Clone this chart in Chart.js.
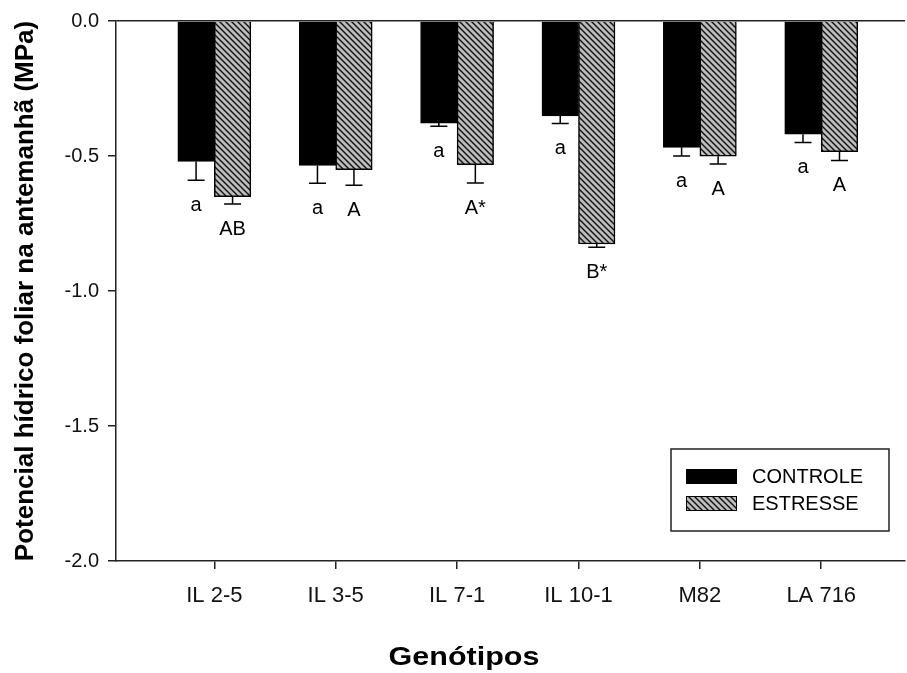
<!DOCTYPE html>
<html lang="pt">
<head>
<meta charset="utf-8">
<title>Potencial hídrico foliar na antemanhã</title>
<script src="https://cdn.jsdelivr.net/npm/chart.js@4.4.0/dist/chart.umd.min.js"></script>
<style>
  html, body { margin: 0; padding: 0; background: #fff; }
  .chart-wrap { position: relative; width: 907px; height: 673px; }
</style>
</head>
<body>
<div class="chart-wrap"><canvas id="waterChart"></canvas></div>
<script>
// Data (MPa)
const genotipos = ["IL 2-5", "IL 3-5", "IL 7-1", "IL 10-1", "M82", "LA 716"];
const controle = [-0.52, -0.535, -0.378, -0.352, -0.468, -0.419];
const controleErr = [0.07, 0.066, 0.012, 0.028, 0.032, 0.031];
const estresse = [-0.651, -0.551, -0.532, -0.826, -0.501, -0.484];
const estresseErr = [0.027, 0.057, 0.068, 0.012, 0.029, 0.033];
const letrasControle = ["a", "a", "a", "a", "a", "a"];
const letrasEstresse = ["AB", "A", "A*", "B*", "A", "A"];
const yTicks = [0, -0.5, -1.0, -1.5, -2.0];

const FONT = '"Liberation Sans", Arial, Helvetica, sans-serif';
Chart.defaults.font.family = FONT;
Chart.defaults.color = "#000";

const canvas = document.getElementById("waterChart");
const ctx = canvas.getContext("2d");

/**
 * Grey fill with black diagonal hatch ("\\\")
 */
function makeHatch() {
  const tile = document.createElement("canvas");
  tile.width = 6;
  tile.height = 6;
  const g = tile.getContext("2d");
  g.fillStyle = "#bdbdbd";
  g.fillRect(0, 0, 6, 6);
  g.strokeStyle = "#111";
  g.lineWidth = 1.4;
  g.beginPath();
  g.moveTo(-1, -1); g.lineTo(7, 7);
  g.moveTo(-1, 5); g.lineTo(1, 7);
  g.moveTo(5, -1); g.lineTo(7, 1);
  g.stroke();
  return ctx.createPattern(tile, "repeat");
}

const hatch = makeHatch();

// error bars (downward only) and the letters below them
const errorBarsPlugin = {
  id: "errorBars",
  afterDatasetsDraw(chart) {
    const c = chart.ctx;
    const y = chart.scales.y;
    c.save();
    chart.data.datasets.forEach((ds, i) => {
      const meta = chart.getDatasetMeta(i);
      meta.data.forEach((bar, j) => {
        const v = ds.data[j].y;
        const yEnd = y.getPixelForValue(v - ds.errors[j]);
        c.strokeStyle = "#000";
        c.lineWidth = 1.5;
        c.beginPath();
        c.moveTo(bar.x, bar.y);
        c.lineTo(bar.x, yEnd);
        c.moveTo(bar.x - 8.5, yEnd);
        c.lineTo(bar.x + 8.5, yEnd);
        c.stroke();

        c.fillStyle = "#000";
        c.font = "20px " + FONT;
        c.textAlign = "center";
        c.textBaseline = "middle";
        c.fillText(ds.letters[j], bar.x, yEnd + 25);
      });
    });
    c.restore();
  },
};

// boxed legend inside the plot + x axis title
const legendPlugin = {
  id: "boxLegend",
  afterDraw(chart) {
    const c = chart.ctx;
    c.save();
    c.strokeStyle = "#222";
    c.lineWidth = 1.5;
    c.strokeRect(671, 449, 218, 82);

    chart.data.datasets.forEach((ds, i) => {
      const top = 469 + i * 27;
      c.fillStyle = ds.backgroundColor;
      c.fillRect(686, top, 51, 15);
      c.strokeStyle = "#000";
      c.lineWidth = 1;
      c.strokeRect(686.5, top + 0.5, 50, 14);
      c.fillStyle = "#000";
      c.font = "20px " + FONT;
      c.textAlign = "left";
      c.textBaseline = "middle";
      c.fillText(ds.label, 752, top + 8);
    });

    // x title, slightly wide as in the original figure
    c.translate(464, 658);
    c.scale(1.22, 1);
    c.font = "bold 25px " + FONT;
    c.textAlign = "center";
    c.textBaseline = "middle";
    c.fillText("Genótipos", 0, 0);
    c.restore();
  },
};

const whiteBg = {
  id: "whiteBg",
  beforeDraw(chart) {
    const c = chart.ctx;
    c.save();
    c.fillStyle = "#fff";
    c.fillRect(0, 0, chart.width, chart.height);
    c.restore();
  },
};

new Chart(canvas, {
  type: "bar",
  data: {
    datasets: [
      {
        label: "CONTROLE",
        data: controle.map((v, i) => ({ x: i + 1, y: v })),
        errors: controleErr,
        letters: letrasControle,
        backgroundColor: "#000",
        borderColor: "#000",
        borderWidth: 1,
      },
      {
        label: "ESTRESSE",
        data: estresse.map((v, i) => ({ x: i + 1, y: v })),
        errors: estresseErr,
        letters: letrasEstresse,
        backgroundColor: hatch,
        borderColor: "#000",
        borderWidth: 1.5,
      },
    ],
  },
  options: {
    responsive: true,
    maintainAspectRatio: false,
    animation: false,
    barThickness: 36.5,
    layout: { padding: { top: 21, right: 2, left: 0, bottom: 0 } },
    plugins: {
      legend: { display: false },
      tooltip: { enabled: false },
    },
    scales: {
      x: {
        type: "linear",
        min: 0.19,
        max: 6.69,
        offset: false,
        afterBuildTicks: (s) => {
          s.ticks = genotipos.map((g, i) => ({ value: i + 1 }));
        },
        afterFit: (s) => {
          s.height = 112;
        },
        ticks: {
          autoSkip: false,
          maxRotation: 0,
          padding: 14,
          color: "#111",
          font: { size: 22 },
          callback: (v, i) => genotipos[i],
        },
        grid: {
          offset: false,
          drawOnChartArea: false,
          tickLength: 8,
          tickColor: "#222",
          lineWidth: 1.5,
        },
        border: { color: "#222", width: 1.5 },
      },
      y: {
        min: -2,
        max: 0,
        afterBuildTicks: (s) => {
          s.ticks = yTicks.map((v) => ({ value: v }));
        },
        afterFit: (s) => {
          s.width = 116;
        },
        ticks: {
          padding: 9,
          color: "#111",
          font: { size: 20 },
          callback: (v) => Number(v).toFixed(1),
        },
        grid: {
          color: (c) => (c.tick && c.tick.value === 0 ? "#222" : "rgba(0,0,0,0)"),
          tickColor: "#222",
          tickLength: 8,
          lineWidth: 1.5,
        },
        border: { color: "#222", width: 1.5 },
        title: {
          display: true,
          text: "Potencial hídrico foliar na antemanhã (MPa)",
          color: "#000",
          font: { size: 26, weight: "bold" },
          padding: { top: 10, bottom: 0 },
        },
      },
    },
  },
  plugins: [whiteBg, errorBarsPlugin, legendPlugin],
});
</script>
</body>
</html>
